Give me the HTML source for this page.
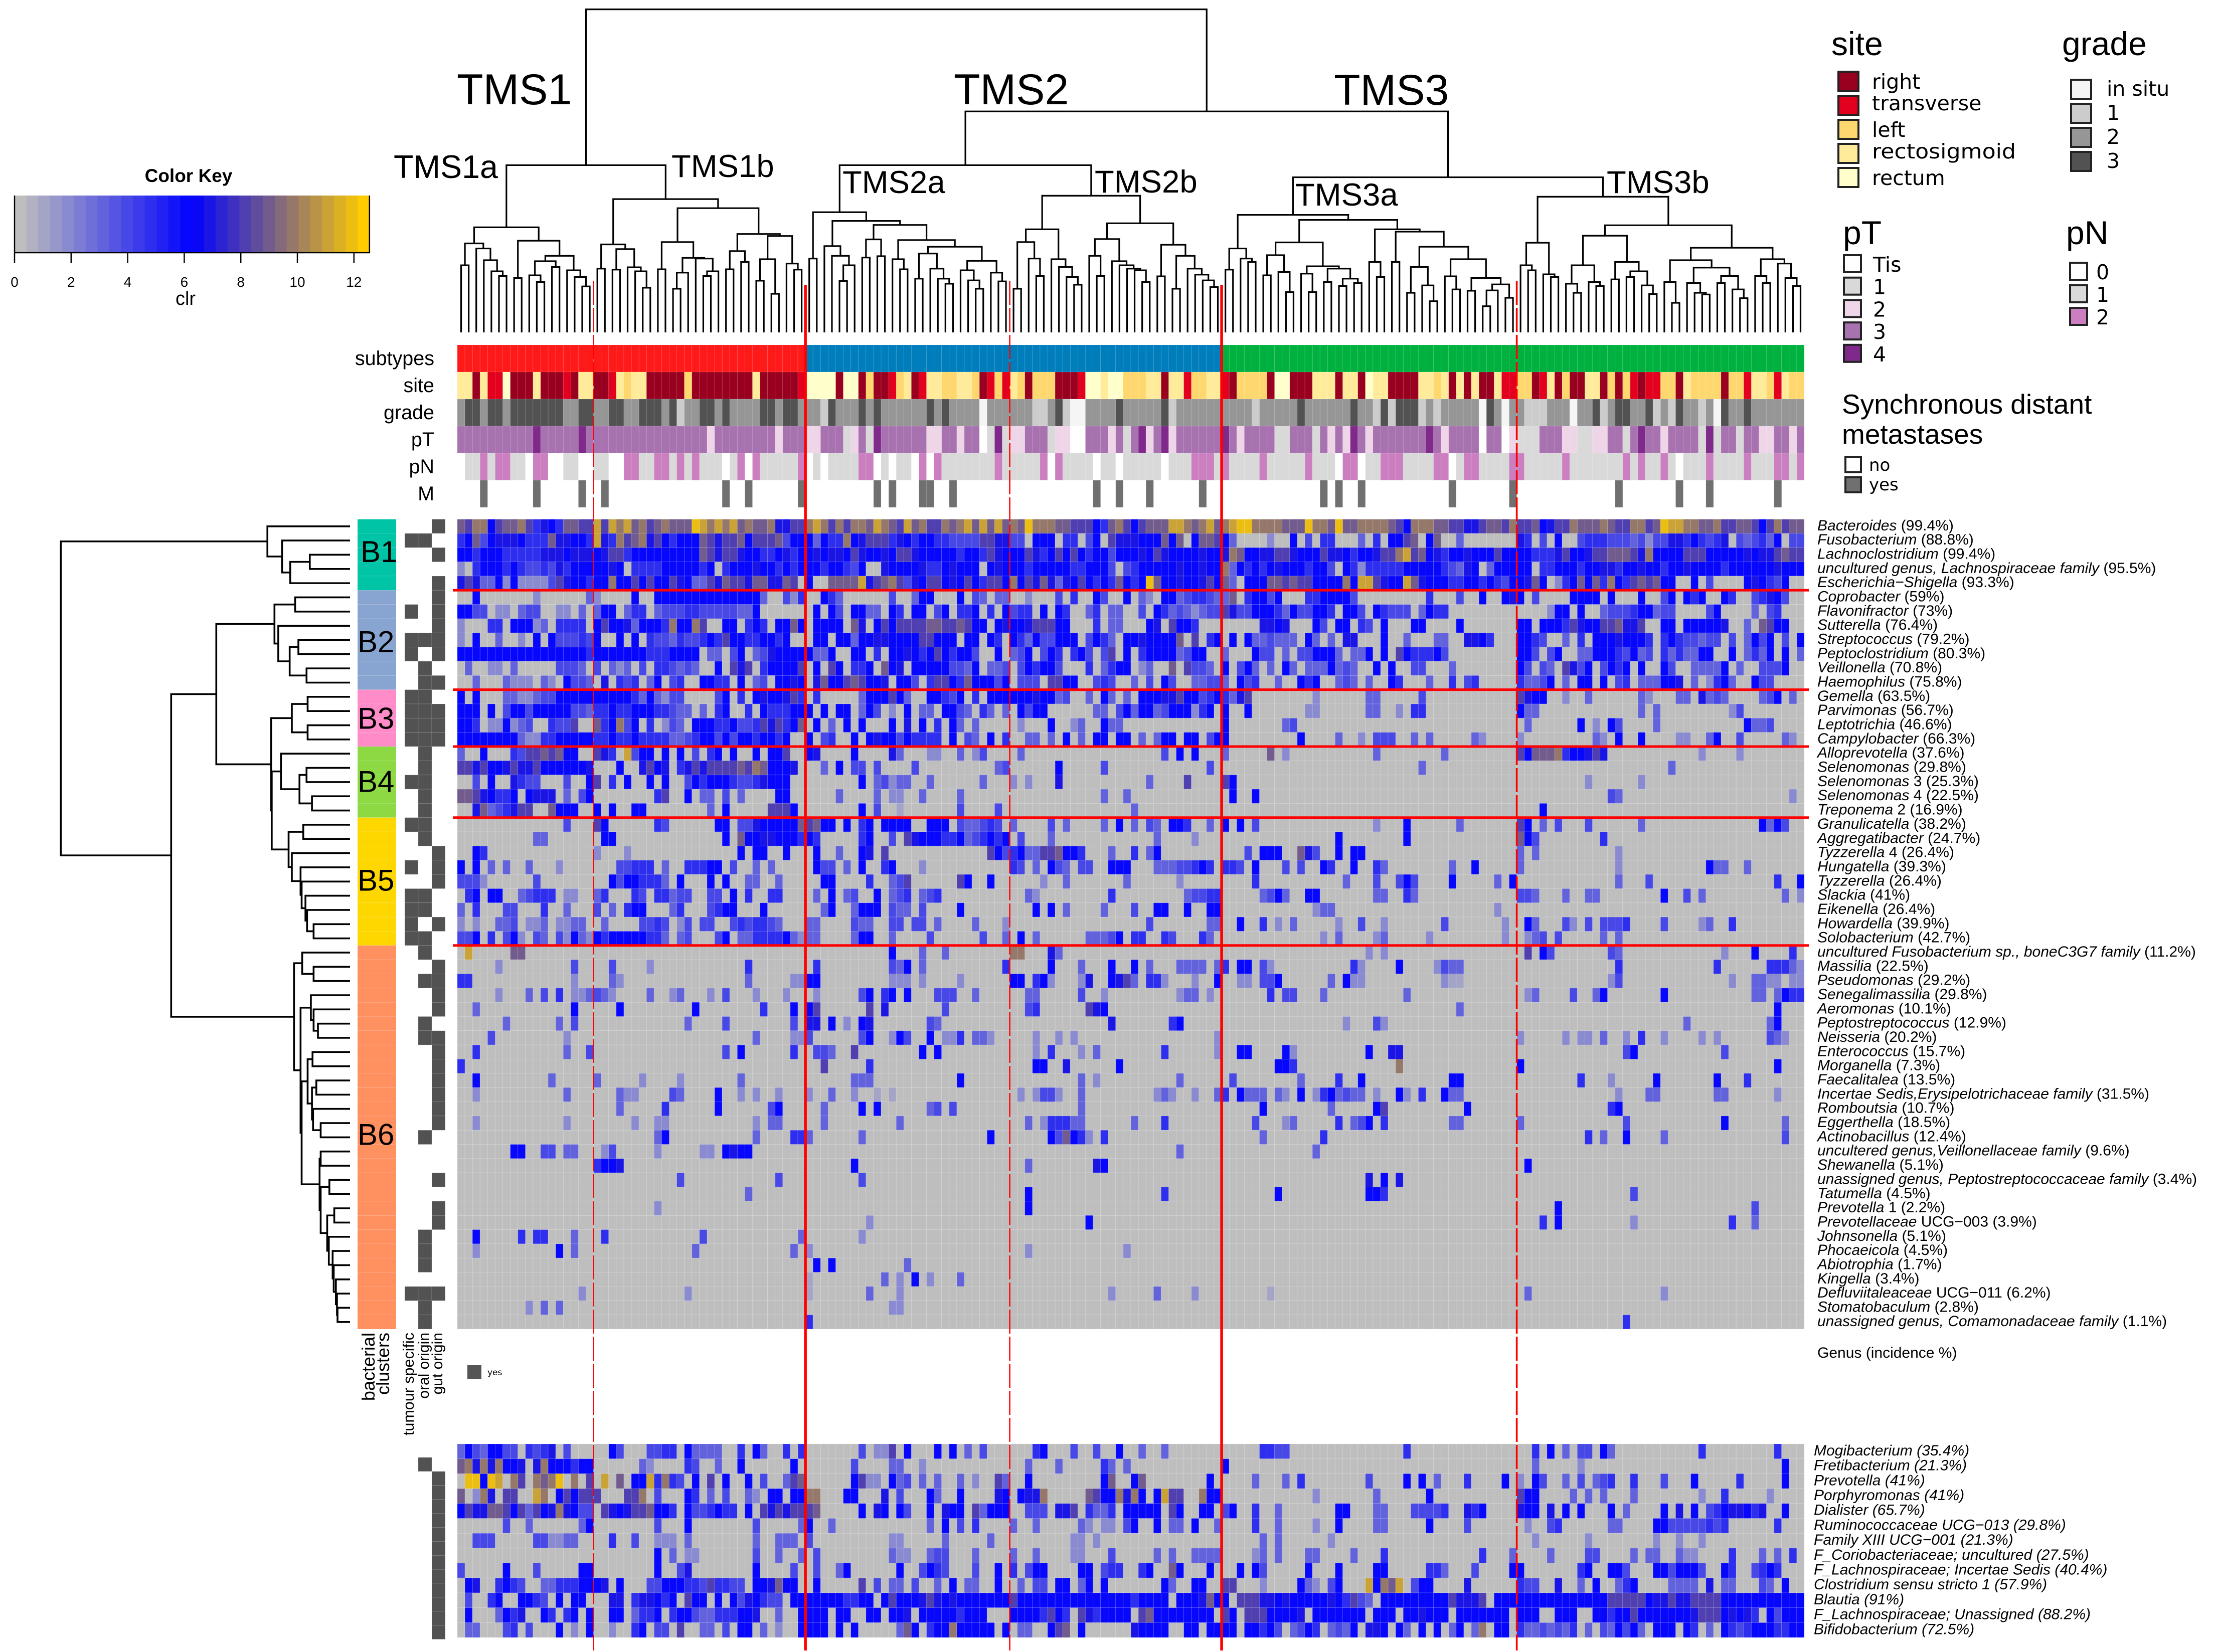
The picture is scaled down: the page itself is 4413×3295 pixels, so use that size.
<!DOCTYPE html>
<html lang="en">
<head>
<meta charset="utf-8">
<title>Microbiome heatmap with TMS subtypes</title>
<style>
html,body{margin:0;padding:0;background:#fff;width:4413px;height:3295px;overflow:hidden}
svg{display:block}
text{font-family:"Liberation Sans",Arial,sans-serif;fill:#000}
.dv{font-family:"DejaVu Sans","Liberation Sans",sans-serif}
</style>
</head>
<body>
<svg id="chart" xmlns="http://www.w3.org/2000/svg" width="4413" height="3295" viewBox="0 0 4413 3295"></svg>
<script>
/* ---------- categories ---------- */
const genusTop = ["Bacteroides","Fusobacterium","Lachnoclostridium","uncultured genus, Lachnospiraceae family","Escherichia−Shigella","Coprobacter","Flavonifractor","Sutterella","Streptococcus","Peptoclostridium","Veillonella","Haemophilus","Gemella","Parvimonas","Leptotrichia","Campylobacter","Alloprevotella","Selenomonas","Selenomonas| 3","Selenomonas| 4","Treponema| 2","Granulicatella","Aggregatibacter","Tyzzerella| 4","Hungatella","Tyzzerella","Slackia","Eikenella","Howardella","Solobacterium","uncultured Fusobacterium sp., boneC3G7 family","Massilia","Pseudomonas","Senegalimassilia","Aeromonas","Peptostreptococcus","Neisseria","Enterococcus","Morganella","Faecalitalea","Incertae Sedis,Erysipelotrichaceae family","Romboutsia","Eggerthella","Actinobacillus","uncultered genus,Veillonellaceae family","Shewanella","unassigned genus, Peptostreptococcaceae family","Tatumella","Prevotella| 1","Prevotellaceae| UCG−003","Johnsonella","Phocaeicola","Abiotrophia","Kingella","Defluviitaleaceae| UCG−011","Stomatobaculum","unassigned genus, Comamonadaceae family"];
const incidenceTop = [99.4,88.8,99.4,95.5,93.3,59,73,76.4,79.2,80.3,70.8,75.8,63.5,56.7,46.6,66.3,37.6,29.8,25.3,22.5,16.9,38.2,24.7,26.4,39.3,26.4,41,26.4,39.9,42.7,11.2,22.5,29.2,29.8,10.1,12.9,20.2,15.7,7.3,13.5,31.5,10.7,18.5,12.4,9.6,5.1,3.4,4.5,2.2,3.9,5.1,4.5,1.7,3.4,6.2,2.8,1.1];
const genusBottom = ["Mogibacterium","Fretibacterium","Prevotella","Porphyromonas","Dialister","Ruminococcaceae UCG−013","Family XIII UCG−001","F_Coriobacteriaceae; uncultured","F_Lachnospiraceae; Incertae Sedis","Clostridium sensu stricto 1","Blautia","F_Lachnospiraceae; Unassigned","Bifidobacterium"];
const incidenceBottom = [35.4,21.3,41,41,65.7,29.8,21.3,27.5,40.4,57.9,91,88.2,72.5];
const clusterNames = ["B1","B2","B3","B4","B5","B6"];
const clusterSizes = [5,7,4,5,9,27];
const clusterColors = ["#00c4a6","#88a4d0","#ff8cc8","#8cd944","#ffd700","#ff9060"];
const clusterLabelRows = [2.28,8.6,14,18.45,25.4,43.3];
const clusterBreaks = [5,12,16,21,30];
const segmentLengths = [18,28,27,28,39,38];
const subtypeSizes = [46,55,77];
const subtypeColors = ["#ff1a1a","#007dbb","#00b140"];
const solidSplits = [46,101];
const dashedSplits = [18,73,140];

/* ---------- column annotations: value*count runs ---------- */
const siteRuns = "S2 R1 S1 T2 C1 R3 S1 R3 T1 R1 S2 R2 T1 S1 L1 S2 R5 L1 R8 S1 R5 T1 C4 R1 C2 R1 L1 R2 T1 L1 S1 R1 T1 S2 L2 S2 L1 R1 T1 L1 T1 S1 L1 R1 L3 R3 T1 C2 S1 C2 L3 S2 R1 S2 T1 L2 S2 T1 R1 L4 R1 C2 R3 S3 R1 S2 R1 C1 S2 R4 S2 L1 S1 R1 S1 R1 S1 R2 S1 T2 L2 R1 T1 S1 R1 L1 R2 S2 R1 L1 R1 L1 T1 R1 T2 L2 R1 S1 L4 R1 L2 T1 S2 L1 T1 S1 L2";
const gradeRuns = [2,"3*2",2,"3*2",2,"3*7","2*2","3*2","2*2","3*2","2*2","3*3",2,3,1,"2*2","3*2",2,3,"2*4","3*2",2,"3*2",2,
 "2*2",1,3,"2*3",3,2,3,"2*6",3,2,3,"2*4",0,"2*6","1*2",2,3,1,"0*2","2*4",3,"2*5",3,1,"2*6",
 "2*4",1,"2*5",3,"2*6",3,"2*2",1,3,1,"3*3",1,2,1,"2*5",0,3,2,0,"2*2","1*3","2*3",0,"2*2",3,1,2,"3*2","2*2",3,1,2,1,3,"2*2",1,2,0,3,"2*2",3,"2*7"];
const pTRuns = ["3*10",4,"3*5",4,"3*16",2,"3*8",2,"3*3",
 "2*2","3*3",1,2,3,1,4,"3*6","2*2","3*2",2,"3*2",0,1,4,1,"2*2","3*3",1,"2*2","0*2","3*3",2,3,1,3,4,2,3,4,2,"3*6",
 4,3,2,"3*4","1*2","3*3",1,3,2,3,2,4,3,2,"3*7",4,3,2,"3*4",0,"3*2",0,2,"1*3","3*3",2,2,"1*2","2*2","3*2",1,3,4,"3*2",2,"3*4",1,4,1,"3*2",1,"3*2","2*2","3*2",2,3];
const pNRuns = [0,"1*2",2,1,"2*2","1*2",0,"2*2","0*2","1*2","0*2","1*2","0*2","2*2","1*2","2*2",1,2,1,2,"1*2",1,0,1,2,0,2,"1*5",2,
 0,1,0,"1*4","2*2",0,1,0,"1*2",0,2,0,2,"1*7",2,"1*5",2,0,2,"1*4",0,"1*2",0,"1*5",0,"1*3","2*3",1,
 2,"1*4",2,"1*5",2,"1*3",0,"2*2",0,"1*2","2*3","1*4","2*2",0,1,"2*2","1*4","2*2","1*5",2,"1*7",2,1,2,"1*2",2,1,0,"1*3",2,"1*4",2,"1*3","2*2",1,2];
const metastasisYes = [3,10,16,19,35,38,45,55,57,61,62,65,84,87,91,98,114,116,119,131,139,153,161,165,174];

/* ---------- row annotations (0-based row index) ---------- */
const tumourSpecificRows = [1,6,8,9,12,13,14,15,18,21,24,26,27,28,29,54];
const oralOriginRows = [1,8,10,11,12,13,14,15,16,17,18,19,20,21,22,26,27,29,30,32,35,36,43,50,51,52,54,55,56];
const gutOriginRows = [0,2,4,5,6,7,8,9,11,13,14,15,23,24,25,28,31,32,33,34,36,37,38,39,40,41,42,46,48,49,54];
const oralOriginBottom = [1];
const gutOriginBottom = [2,3,4,5,6,7,8,9,10,11,12,13];

/* ---------- heatmap values: clr level per cell (. = 0, a = 10, b = 11, c = 12) ---------- */
const denseRows = [
"98aa6899a8576599 88|b8bab9a89a999cbabab9a99a7788|aba8a8aa9ba98b9a88a9ab9b9b9|a9caaa99888659a868999bba9ab9|abcca aaa999caa9c99aaaa986aaa9988778998ab|8896 78 8a999a98 8aa8 9cbbaa99a889 9 8 6 8a899",
"56946777655597 7665|b75a89a786566698788968889 466|63655a678885765665544448877 |44.666.55.46.8777666969.6998 6|63....2..6.4.55...3.5.6689.69..3.......9.|75.4.6..45554443424477565457.43453 6.44",
"665666555557776777|678856666666669878876655 6756|676776876676887666665665876|668756868656646667687666676 66|7a9 6 6 7 7 8 8 7 6 6 6 8 7 7 6 5 6 6 7 8 8 a b 8 9 6 7 5 6 6 7 6 6 6 8 6 6|6 6 5 5 5 7 8 6 6 7 8 8 9 9 9 8 7 a 6 6 6 6 8 8 8 6 6 6 6 6 7 6 7 7 8 9 8 8",
"2.5666565445475666|6676.55556666656.56667665656|6656654 6..76666755676 66.676|66566666556664.456666676676 6|a36565676665664.65 25555566666543 76.3 666|66.55666566775667665667666656666667666",
"787336262222 48766 5|66a66868668763387988799779 8 .|6..9999b7 8 9a8476 8 8 6 7 6 8 6 5 8 8 6|a687973768656596 56c966 7 66786|93.6669 9 8 9 8 8 6 6 6 6a6bb8766b9 7 6 6 6 5 5 6 6 5 6 5 4 6|679 6.2569695a6589 8 9 66..6.4....67654 6..6",
"..6.......2......3|2....6..666666666666663..4 2 5|..653......4..366...6.43.33|..2...4.5..64..6.32.663 45543|39.566 46...5566664.........5...4..6..67|6.4....6666.6...6..46.656..65..457 64",
"6644.22.344..22.3.|366.355.344455444443 36.....|.6. 6 4 . 6 6 3 3 . 6 5 . 6 6 . 4 6 . 5 5 6 . 5 . 6|455.6.65..35.33..4.6534323446|874466653644665.664.6544 4.3 655..|....2 66.6..34445663 44....46....3.45",
"2...55.666 23.555 5|68667366 65a66a8..66.565.669 6|.6 6 6 6 . 9 7 . 6 8 6 8 8 8 8 9 9 8 8 9 8 6 6 . 6 7|667888 66...5.33...67.86 65...|.....7767...64.66.54.6...66....6..|66.66658 7 6 688 9 7 78..66.6666 67..3.9866",
"2.6..3..2.6.64445 4|6..6.6.5443544 5 65866556656|. 6 6 . 6 6 3 6 6 7 7 6 6 6 6 8 8 6 6 6 . 6 6 . 6 5|653644666.46 53.6676666 9.8.56|.6.6334 333.63.3.77...6..3...33..776 5|66 54..3.5.6667666 5.5654434 4.4.3646.4.6",
"666666666666 666665|6666666555666 6.33.46.347666 67|6 3 3 6 . . 6 6 . 5 . 6 6 7 6 5 6 8 6 5 6 6 4 . . 6|346.465.564.48.6.5666634 66|3...644.3.44 6663.33 6.6.8655564 .........|664.46..33 6665463 4.535 3 3 66..6.353 6.6.3",
".3..22.3.....4443.|4.32 3.4.5543 43..6.878.56666 8|.6.8 6 . 5 5 6 . 9 6 7 . 6 6 6 6 6 4 4 3 6 . 3 3 4|.4656 64 ...5.3566 .23..9.844 3.|6.463.3.63.333634 3..6.6..44...3...|64.43.874 6.465 6.6..64..3333 6.3..444 6",
"..3...3222.32.6443|.7.545.36.45..6655.6.34.66 76|.7 9 6 6 8 9 8 6 6 7 . 6 6 4 . 5 8 8 6 5 9 6 6 6 4 6|.444.88 66..454..3.4.64..33 443|3.645..3..656..343.3..65...3..5.45....|5334 6.3.66.6.45.333 667.3.256 3..6 44.",
"6.6...3322344 666 66|66666536 32 44....46.5.67667 85|.5.....3 6 6 6 8 6 3 . . 6 6 5 4 6 . 5 . 6 6 6 7 8|66676634..3.63.3.66677866 456|537 8........2......33.....4...|8766..2..3......32...33.7343....346.3",
"666.6.466466666443|556556665543 3.3.56..5.65556 6|6 . 6 . 6 6 . 3 6 4 . 2 . 6 . 3 3 . 6 6 4 3 . 5 3 . 3|.646 6......33.463 66346 6625 6 .|6..6.......22......33..2.55....... .|633.............3.3.........24.........",
"665.226 234 ..5448|956a46.5.243.66655644587 8569|.6.3.6.6...6 .7.6.5.63.3...|.2...6..23..633...............|6.......3 4...........................|.3......6.2.6 4....3...........633 4.",
"66666666 3225566 6666|556556555533456 6 4646 65 665 6|6 . 4 5 . . 6 . 6 7 6 6 4 6 5 5 5 5 . 6 . 4 3 . 6 . 5|..33.3.6.3.66.66.3.366.66.46|6.........6....3..2.444..3.3.....32...|2.........32.6..6....22..36..4.....32."
];
const semiDenseRows = {
16:"3..6...54889 8 9 6 6 ..|875.b466.6.6.4.56.6..6.668|0:6,1:7,6:6,11:7,12:3,16:2,17:2,20:3,22:2,23:4|1:3,20:4,22:6,24:6|0:3,6:9,8:2,20:3,29:3|0:8,1:6,2:9,3:9,4:9,5:a,6:5,7:6,8:6,9:7,10:8,11:7,24:2,29:2",
17:"887866787786666667|...6..786 7.578 788889 8a9666 7.|2:3,4:6,6:4,7:4,9:4,14:4,25:3,26:4|6:6,12:4,26:4|26:3|20:3",
18:"..4.6..75 44...4..6|8.5.6..6.6..465666544576 66 .|7:6,9:3,10:4,11:2,12:3,13:3,16:3,23:3|0:2,2:2,6:7,18:3,23:8|0:8,1:6|9:2,16:2",
19:"9987655 6.677 7.3.46|........58..6.33.4.3....66..|4:3,9:3,11:2,12:2,15:3,20:3|12:3,15:3|1:6,4:6|12:4,13:3,36:2",
20:"..79345788..966 6.|6.6..66........3.6.....8886|7:6,9:4,12:1,20:4,25:4|16:3||3:6",
21:"..............4...|86......54......66.447666669|0:8,1:9,2:6,3:6,5:6,7:5,8:6,10:6,11:6,12:6,13:6,16:6,17:6,18:6,20:4,21:3,22:3,23:4,24:5,25:4|0:3,5:4,7:3,12:3,14:6,16:3,18:4,19:3,21:6,22:6,23:5,26:3|0:6,2:6,4:4,20:2,24:6,31:3|0:8,1:6,3:3,5:4,9:4,16:3,32:6,33:3,34:6,35:4",
22:"..........33......|.66..............6.9667766 65|0:6,1:5,7:5,8:6,11:4,13:8,14:7,15:6,16:6,17:6,18:5,19:5,20:6,21:3,22:4,23:5,24:6,25:5,26:6|1:4,5:3,19:3,24:2|15:6,24:6|0:9,1:6,2:4,11:5",
23:"..65..............|2...2..............6.66..6..|1:6,4:3,7:6,8:7,10:8,24:8,25:6,26:4|0:5,1:6,2:3,3:3,4:8,5:8,6:9,7:6,8:6,9:5,13:3,16:5,18:3,19:6|3:4,5:6,6:6,7:6,10:9,11:7,12:4,15:6,17:6,18:6|0:3,2:3,13:2",
24:"6.6.3.3..3...2....|...44555.3..5556 6.4..3.3...|1:6,2:4,3:4,5:3,7:6,10:5,11:6,15:2|0:5,1:4,3:3,5:6,6:4,7:3,9:4,10:4,13:6,14:6,15:6,19:3,20:3,21:3,22:4,23:4,24:5,25:6,26:5|0:5,1:5,2:4,4:6,8:4,10:4,13:6,14:5,17:6,20:5,21:3,30:3,33:6|0:3,13:2,25:6,26:3,27:3,30:3",
25:"4442......4.......|..646655 53.6...6.6..33..3..|2:6,3:6,8:5,11:3,12:4,13:8,20:8,21:6,24:6|4:2,7:3,15:3,22:2|4:5,16:3,20:4,23:4,24:6,25:4,30:6,36:3,38:6|13:3,17:4,34:5,37:6",
26:".56.66..345 55.22..|35...54.5534 4..44.6.5..55..|1:3,3:6,5:3,6:4,9:6,11:3,12:4,13:5,15:3,16:4,17:5|2:3,3:2,13:5,23:3,24:4,25:4,26:5,27:5|5:3,6:4,7:6,8:3,11:6,12:6,20:3,21:3,24:5,25:3|0:4,1:4,2:3,6:3,9:3,10:3,19:6,22:4,24:3,35:3,37:2",
27:"3.5...44...5..3...|4.3.566...35...4566...6...|2:3,3:6,6:3,7:6,8:6,9:6,11:4,12:3,13:3,15:4,20:6|3:6,5:6,7:3,12:3,16:4,19:6,20:6,23:6,26:6,27:6|12:2,13:3,14:3,36:2|",
28:"2.2..334.223.2233.|.3....4454.24.44..454554 3..|0:3,1:3,6:4,7:3,8:3,11:4,12:4,14:4,15:4,17:3,22:3,26:2|18:4,26:3,27:3|2:6,5:5,7:2,9:3,15:2,18:4,21:2,29:4,37:2|1:6,2:3,6:4,7:2,9:4,11:4,12:4,13:4,14:5,19:4,24:2,25:3,28:5",
29:"446.5.462.4 3.426 32|6566666553.34...46.33 55556 32|0:3,1:3,6:3,7:6,8:6,11:3,16:4,23:4,26:3|1:6,3:3,10:3,11:3,12:3,13:4,14:6,16:5,17:5,20:5,21:4,25:5,26:3|13:2,15:3,20:2,21:3,27:2,37:2|1:2,2:3,3:4,5:4,11:3,13:3"
};
const sparseRows = [
"1:b,7:9,8:9,57:6,61:3,64:3,73:a,74:a,78:7,79:3,120:2,122:2,141:8,143:6,144:4,152:4,153:3,167:2,171:6,176:5",
"5:2,15:4,20:4,25:2,38:5,47:5,57:4,58:3,59:6,61:3,72:5,78:6,82:3,86:6,89:6,91:3,95:3,96:3,97:3,98:3,100:3,101:5,103:6,104:6,106:4,107:2,118:5,119:2,124:6,129:2,130:4,131:3,132:3,153:5,166:5,173:5,174:5,175:5,176:3,177:2",
"0:5,1:5,15:2,20:3,21:2,38:3,44:2,45:2,46:6,47:6,57:2,58:2,59:2,61:2,66:2,73:6,74:6,76:5,77:6,78:2,82:2,83:7,86:6,87:7,88:8,89:3,91:5,92:5,93:2,97:2,100:6,103:2,104:2,106:4,107:4,108:6,115:3,117:6,118:2,119:2,130:2,131:1,132:1,152:2,153:4,168:2,171:3,172:3,173:2,174:2,176:2,177:2",
"5:2,9:3,11:4,13:5,15:2,16:2,17:3,18:4,19:3,20:2,25:3,28:2,29:3,33:2,35:4,39:2,43:2,47:2,53:4,54:6,56:5,57:6,59:6,63:4,64:4,65:4,68:3,75:3,76:3,82:4,85:2,95:2,96:3,97:3,99:2,107:5,109:4,110:4,114:3,125:3,141:2,142:3,147:4,150:3,151:6,159:6,171:3,172:3,174:3,175:6,176:5,177:5",
"2:3,15:6,21:6,31:6,40:5,44:6,46:6,47:8,54:8,56:7,64:4,75:4,76:5,83:8,84:7,85:6,132:3,174:6",
"6:3,13:3,15:4,30:3,35:4,44:4,46:7,47:7,49:6,51:2,53:6,54:7,62:4,63:3,86:7,94:5,95:6,117:2,121:4,122:2,162:3,173:3,174:6",
"4:4,14:2,39:3,44:2,45:2,46:4,53:4,54:6,57:2,58:6,59:4,62:6,64:2,65:2,66:5,68:3,69:3,70:2,76:2,79:2,81:2,100:2,140:2,146:2,148:2,149:2,151:3,154:2,156:5,159:2,164:2,166:2,173:4,174:3,175:2",
"2:5,14:3,17:4,35:4,37:6,44:5,47:4,48:4,49:3,52:8,61:6,63:6,76:2,78:5,82:2,84:3,93:5,100:2,103:6,104:6,109:6,110:2,120:6,123:7,124:7,154:4,155:6,167:4",
"0:5,48:8,54:5,76:6,77:6,80:7,87:6,108:6,109:6,110:5,124:a,140:6,174:6",
"2:6,12:3,18:3,24:2,29:2,37:3,52:3,53:3,54:3,66:6,82:3,84:2,95:3,102:4,111:3,116:5,119:6,131:6,132:6,148:5,152:2,158:6,166:6,170:5",
"2:2,14:3,21:3,22:2,23:2,28:4,29:3,34:6,37:2,39:2,42:2,46:2,49:3,52:2,55:1,57:1,74:2,76:2,77:4,78:4,79:2,82:3,92:2,93:3,94:2,97:2,100:3,101:5,103:6,104:3,105:3,106:3,108:3,109:2,111:6,113:2,114:5,115:6,116:3,117:4,118:3,119:3,121:2,124:6,125:2,127:5,130:6,131:3,132:3,153:2,157:3,158:3,166:3,167:3,174:2",
"21:3,27:5,34:6,41:4,42:6,48:3,53:6,55:6,62:3,63:4,65:4,82:3,106:6,115:3,121:6,122:8,133:6,152:5,153:6",
"2:2,14:2,23:2,26:2,27:2,39:2,41:3,42:3,48:3,58:3,75:3,77:2,78:5,79:5,80:5,81:3,82:3,89:3,93:5,105:4,109:2,110:3,116:5,118:3,119:4,120:6,122:5,131:3,132:3,140:3,154:4,167:6,175:3",
"26:3,27:6,39:3,44:5,45:5,46:3,53:3,70:6,78:6,79:4,80:9,81:6,82:5,83:2,85:5,106:3,114:5,149:5,151:3,154:6,159:3,175:4",
"7:6,8:6,11:4,12:4,14:3,15:3,19:2,20:4,26:2,32:2,33:2,35:6,36:7,37:6,38:6,95:3,113:3",
"18:5,19:6,20:6,21:7,52:5,52:6,75:3,84:7,85:6,141:6",
"29:4,42:4,53:4,120:7,122:6,124:7",
"38:3,75:6,93:5,108:6,120:6,121:6,122:5,155:4",
"26:2,75:6,145:6,171:4",
"83:6,54:2,143:5,145:6,155:2,168:5,171:3",
"2:6,8:5,10:5,11:5,15:3,19:5,32:4,45:3,53:2",
"2:2,13:6,15:3,31:3,44:3,46:2,75:2,88:2",
"47:6,49:6,59:3",
"46:1,56:3,58:2,60:6,62:2,66:3",
"16:2,30:2,46:1,54:3,58:2,86:2,92:3,97:2,107:1,141:3,159:2",
"9:2,11:3,13:3,57:2,58:2",
"46:5,154:5"
];
const bottomRows = [
"364366 44.5457.4..|..64...4455.63333..5.63..5.5|.......4.228.6...6.6.3.4...|...56...4..4..6..3..3.......|5:5,6:5,7:4,8:4,24:5|2:5,4:6,6:3,8:4,9:4,11:6,12:3,24:5,34:5",
"9a7a7a667.7a666566|......32....54..3..6......6.|......4....33..2...........|..3...3.....53.3............|0:6|2:3,8:2,35:6",
".cc6cb.a8.a9ac.a.8|.b.9.66b5a54.6.8.6..6.4..389|......6822.634.3.3..3.2..83|..6.........69..69........6.|4:3,8:3,10:5,19:4,24:6,26:6,28:3,32:5,37:6|0:2,2:6,3:4,6:3,8:4,10:3,11:4,12:5,15:5,19:4,23:6,29:5,35:6",
"9.2a7.88..ba.68688|8...88a.4...65.3.4..32.66.66|aa...66...7.4...63..6....76|.677a.....9866a7a6.6b88..a66|12:2,20:3,27:6|0:8,1:6,2:6,7:3,9:3,11:3,15:3,24:2,27:5,33:2",
"687799868386 7a7644|.87678896 65.64456 55.6.87878 8|89.....6.76.64..6.766.83666|..444.778.5335.66666.86..66.|0:4,1:6,4:5,7:3,15:6,16:6,20:3,21:3,25:4,26:4,27:4,28:4,29:5,32:7,33:5,34:6|0:7,1:6,2:6,4:7,6:6,8:6,12:6,14:3,19:6,21:7,23:6,25:4,26:5,27:6,28:7,29:7,30:6,31:5,32:7,35:6",
"......4..3......36|........4...6........4.....3|6..3............3.6.4.5....|3..3.....32.22.46..6.33.6..3|4:5,7:3,12:2,15:6,20:3,21:3,27:6,32:4|1:2,4:4,5:5,12:3,13:3,18:6,19:6,20:4,21:4,22:4,23:4,24:4,25:5,26:4,27:5,34:5",
"..444.....442233..|..5..4..222.3........3..333.|4..........22.....3.....3..|........22.2................|5:3,7:3,14:2|2:2,9:2,18:2,21:2,24:2",
"|........6.3.22.......4..3..3|.4.........322..344...3....|3..3....22...4.....3.3..3333|4:2,5:3,7:3,11:3,12:3,17:3,21:5,34:5,38:3|4:3,9:4,10:4,15:3,17:3,18:3,21:3,22:2,23:2,28:5,32:3,34:3,36:5",
"4.....6...4.....66|........6..47........6....4.|.4..36......6..4654...4..6.|5.466....66.455..56..96...6..|2:6,4:6,5:4,11:6,15:6,20:6,21:6,27:5,28:5,29:3,33:4,38:6|0:6,8:5,9:6,12:6,13:6,14:4,18:6,19:6,20:4,21:6,22:6,23:6,24:4,27:6,28:5,31:4,32:5,33:6,34:5",
".67..56 54..33555 66|67.6...4466655485544.6679 66.|.6.....8.4.33.4..3.6.33..6.|.3.44.66.36.6.......63..66..|0:8,1:8,5:2,10:6,11:3,12:2,14:4,15:6,19:b,20:6,21:a,22:9,23:b,25:4,26:6,27:6,32:7|0:5,1:4,2:4,5:7,8:3,10:6,13:3,14:5,15:6,20:3,21:3,22:3,23:3,25:7,27:3,28:3,32:4,33:3,35:6",
".4..56..6654.6.66.|..77.577656.866.6.6476544.66|666665566.68666787676666666|8666666666666666566 66.666796|6.888 7 7 6 7 6 6 6 6 6 7 6 5 8 4 3 . 6 6 6 6 6 6 6 6 6 8 7 7 7 8 . 6 6 6|6 6 6 6 6 6 6 6 6 6 6 6 8 8 8 8 8 6 7 7 8 7 7 8 8 8 8 6 6 6 6 6 6 6 6 6 6 6",
".6...3657..65.56.6|..66.3556.566433555667..3..6|666.66..66.667.66666 5666 .|6666 58 65 . 8756666.8966666666|86.8886666 7.6666666.666.6676 66.6666666|666..666..66566866666667888 67675.646 66",
".33...45.4...6.2.66|..2..56.44.8..33.4.66.3.2..6|666.6.6.....396.566a66666.6|.33..689.6......76666..66.667|66.6656 4.346 5.3436.776.63.6.6.36.3a.66|53343435.3.4364 63.666.65.3.654566655 66"
];

/* ---------- top dendrogram (nested merges: [height, left, right], 0 = leaf) ---------- */
const tms1a = [313,[265,[200,0,0],[250,0,[215,0,[182,0,[168,0,0]]]]],[273,[162,0,0],[228,[212,[170,0,[150,0,0]],[195,0,0]],[185,0,[165,0,[137,0,0]]]]]];
const tms1b = [397,[262,[190,0,0],[248,[187,0,0],[194,0,[182,0,[133,0,0]]]]],[370,[269,[188,0,0],[222,[178,[130,0,0],0],[220,0,[182,[168,0,0],0]]]],[293,[242,[188,0,0],[210,0,0]],[287,[218,[154,0,0],[115,0,0]],[205,0,[187,0,0]]]]]];
const tms2a = [358,[220,0,0],[332,[257,0,[228,0,[200,[153,0,0],0]]],[320,[277,[223,0,0],[227,0,0]],[275,[218,0,[188,0,0]],[255,[235,[160,0,0],[190,0,[160,0,[145,0,0]]]],[213,[185,0,[155,0,[130,0,0]]],[178,0,[152,0,0]]]]]]]];
const tms2b = [407,[307,[269,[130,0,0],[220,0,[168,0,0]]],[218,0,[195,0,[165,0,[142,0,0]]]]],[325,[278,[228,0,[168,0,0]],[212,0,[200,0,[190,0,[185,0,[150,0,0]]]]]],[261,[167,0,0],[228,[130,0,0],[190,0,[172,0,[155,0,[135,0,0]]]]]]]];
const tms3a = [350,[250,[187,0,0],[220,0,[210,0,0]]],[335,[268,[230,[170,0,0],[180,0,[120,0,0]]],[197,[175,0,[120,0,0]],[190,[150,0,0],[160,[138,0,0],[147,0,0]]]]],[307,[210,0,[165,0,0]],[300,[210,0,0],[255,[195,[118,0,0],[140,0,[93,0,0]]],[218,[167,0,[128,0,0]],[162,[124,0,0],[143,[125,[78,0,0],0],[103,0,0]]]]]]]]];
const tms3b = [404,[267,[200,0,[185,0,0]],[173,0,[165,0,0]]],[319,[288,[200,[145,0,[118,0,0]],[150,0,[138,0,0]]],[210,[158,0,0],[182,[165,0,0],[140,0,[114,0,0]]]]],[252,[215,[150,0,[88,0,0]],[193,[147,0,[118,0,[113,0,0]]],[168,[147,0,0],[128,0,[102,0,0]]]]],[218,[168,0,[147,0,0]],[205,0,[162,0,[138,0,0]]]]]]];
const colTree = [962,[498,tms1a,tms1b],[658,[498,tms2a,tms2b],[462,tms3a,tms3b]]];

/* ---------- left dendrogram ---------- */
const treeB1 = [152,0,[125,0,[110,[74,0,0],0]]];
const treeB2 = [139,[101,0,0],[132,0,[111,[95,0,0],[80,0,0]]]];
const treeB3 = [107,[78,0,0],[78,0,0]];
const treeB4 = [127,0,[93,[80,0,0],[70,0,0]]];
const treeB5 = [113,[86,0,0],[107,0,[91,0,[89,0,[82,0,[79,0,[67,0,0]]]]]]];
const treeB6 = [103,[88,0,[67,0,0]],[91,[72,0,[67,0,[59,0,0]]],[89,[78,[69,0,0],[70,[62,0,0],[68,0,[54,0,0]]]],[56,[54,0,0],[54,[38,0,0],[42,[29,0,0],[39,0,[32,0,[30,0,[26,0,[24,0,[23,0,0]]]]]]]]]]]];
const rowTree = [532,treeB1,[329,[246,treeB2,[145,treeB3,[144,treeB4,treeB5]]],treeB6]];

/* ---------- colour key and legends ---------- */
const clrTicks = [0,2,4,6,8,10,12];
const keyBins = 30;
const keyMax = 12.55;
const siteLevels = ["R","T","L","S","C"];
const siteLabels = ["right","transverse","left","rectosigmoid","rectum"];
const siteColors = ["#99001f","#e3001f","#fed76e","#ffeb9a","#ffffcc"];
const siteLabelShift = [0,-5,0,-5,0];
const gradeLabels = ["in situ","1","2","3"];
const gradeColors = ["#f5f5f5","#cccccc","#969696","#525252"];
const pTLabels = ["Tis","1","2","3","4"];
const pTColors = ["#ffffff","#d9d9d9","#eed5e8","#a872b0","#7f2a8a"];
const pNLabels = ["0","1","2"];
const pNColors = ["#ffffff","#d9d9d9","#cc7fc0"];
const metLabels = ["no","yes"];
const metColors = ["#ffffff","#707070"];
const trackLabels = ["subtypes","site","grade","pT","pN","M"];

/* ---------- scales ---------- */
const svg = document.getElementById('chart');
const NS = 'http://www.w3.org/2000/svg';
const nCols = 178;
const X0 = 912, CW = 15.09;
const Y0 = 1035.6, RH = 28.34;
const BY0 = 2880, BRH = 29.7;
const xCol = c => X0 + c * CW;
const yRow = r => Y0 + r * RH;
const yBottom = r => BY0 + r * BRH;
const yTree = h => 663 - h / 1.493;
const xRowTree = h => 698 - h / 0.9224;
const clrX = v => 29 + v * 56.4;

function mk(tag, attrs, parent) {
  const e = document.createElementNS(NS, tag);
  for (const k in attrs) e.setAttribute(k, attrs[k]);
  (parent || svg).appendChild(e);
  return e;
}
function group(name) {
  const g = mk('g', {});
  
  
  return g;
}
function txt(parent, s, x, y, size, extra) {
  const t = mk('text', Object.assign({x: x, y: y, 'font-size': size}, extra || {}), parent);
  t.textContent = s;
  return t;
}
function clrColor(v) {
  const bin = Math.min(keyBins - 1, Math.floor(v / keyMax * keyBins));
  const t = bin / (keyBins - 1);
  const a = t < .5 ? [190,190,190] : [0,0,255];
  const b = t < .5 ? [0,0,255] : [255,204,0];
  const s = t < .5 ? t * 2 : (t - .5) * 2;
  return 'rgb(' + [0,1,2].map(i => Math.round(a[i] + (b[i] - a[i]) * s)).join(',') + ')';
}
function level(ch) {
  if (ch === '.') return 0;
  if (ch === 'a') return 10;
  if (ch === 'b') return 11;
  if (ch === 'c') return 12;
  return Number(ch);
}
function parseSegment(seg, len) {
  const out = new Array(len).fill(0);
  if (seg.indexOf(':') >= 0) {
    seg.split(',').forEach(p => {
      const q = p.split(':');
      out[Number(q[0])] = level(q[1]);
    });
  } else {
    const s = seg.replace(/\s/g, '');
    for (let i = 0; i < len && i < s.length; i++) out[i] = level(s[i]);
  }
  return out;
}
function parseRow(str) {
  const segs = str.split('|');
  let vals = [];
  segmentLengths.forEach((len, i) => { vals = vals.concat(parseSegment(segs[i] || '', len)); });
  return vals;
}
function parseSparse(str) {
  const out = new Array(nCols).fill(0);
  str.split(',').forEach(p => {
    const q = p.split(':');
    out[Number(q[0])] = level(q[1]);
  });
  return out;
}
function expandRuns(runs) {
  const out = [];
  runs.forEach(r => {
    const q = String(r).split('*');
    const n = q.length > 1 ? Number(q[1]) : 1;
    for (let i = 0; i < n; i++) out.push(Number(q[0]));
  });
  return out;
}
function expandSite(str) {
  const out = [];
  str.split(' ').forEach(tok => {
    for (let i = 0; i < Number(tok.slice(1)); i++) out.push(siteLevels.indexOf(tok[0]));
  });
  return out;
}
const topValues = [];
denseRows.forEach(r => topValues.push(parseRow(r)));
for (let r = 16; r < 30; r++) topValues.push(parseRow(semiDenseRows[r]));
sparseRows.forEach(r => topValues.push(parseSparse(r)));
const bottomValues = bottomRows.map(parseRow);

/* ---------- heatmaps ---------- */
const gTop = group('heatmap-top');
gTop.setAttribute('stroke', '#ffffff');
gTop.setAttribute('stroke-opacity', '0.16');
gTop.setAttribute('stroke-width', '1');
topValues.forEach((row, r) => {
  row.forEach((v, c) => {
    const cell = mk('rect', {x: xCol(c), y: yRow(r), width: CW, height: RH, fill: clrColor(v)}, gTop);
    
    
  });
});
const gBottom = group('heatmap-bottom');
gBottom.setAttribute('stroke', '#ffffff');
gBottom.setAttribute('stroke-opacity', '0.16');
gBottom.setAttribute('stroke-width', '1');
bottomValues.forEach((row, r) => {
  row.forEach((v, c) => {
    const cell = mk('rect', {x: xCol(c), y: yBottom(r), width: CW, height: BRH, fill: clrColor(v)}, gBottom);
    
    
  });
});

/* ---------- column annotation tracks ---------- */
const TRACK_Y = 688, TRACK_H = 54;
const gTracks = group('column-annotations');
gTracks.setAttribute('stroke', '#ffffff');
gTracks.setAttribute('stroke-opacity', '0.12');
function drawTrack(idx, colorOf, name) {
  for (let c = 0; c < nCols; c++) {
    const col = colorOf(c);
    if (!col) continue;
    const cell = mk('rect', {x: xCol(c), y: TRACK_Y + idx * TRACK_H, width: CW, height: TRACK_H, fill: col}, gTracks);
    
    
  }
}
const subtypeOf = [];
subtypeSizes.forEach((n, i) => { for (let k = 0; k < n; k++) subtypeOf.push(i); });
const siteVals = expandSite(siteRuns);
const gradeVals = expandRuns(gradeRuns);
const pTVals = expandRuns(pTRuns);
const pNVals = expandRuns(pNRuns);
drawTrack(0, c => subtypeColors[subtypeOf[c]], 'subtype-cell');
drawTrack(1, c => siteColors[siteVals[c]], 'site-cell');
drawTrack(2, c => gradeColors[gradeVals[c]], 'grade-cell');
drawTrack(3, c => pTColors[pTVals[c]], 'pt-cell');
drawTrack(4, c => pNColors[pNVals[c]], 'pn-cell');
drawTrack(5, c => metastasisYes.indexOf(c) >= 0 ? metColors[1] : null, 'metastasis-cell');
const gTrackLabels = group('track-labels');
trackLabels.forEach((s, i) => {
  const t = txt(gTrackLabels, s, 866, TRACK_Y + (i + .5) * TRACK_H + 13, 39.5, {'text-anchor': 'end'});
  
  
});

/* ---------- dendrograms ---------- */
function drawColTree(node, counter, g) {
  if (node === 0) {
    const leaf = {x: xCol(counter.i) + CW / 2, h: 0};
    counter.i++;
    return leaf;
  }
  const a = drawColTree(node[1], counter, g);
  const b = drawColTree(node[2], counter, g);
  const y = yTree(node[0]);
  const p = mk('path', {d: 'M' + a.x + ' ' + yTree(a.h) + 'V' + y + 'H' + b.x + 'V' + yTree(b.h), fill: 'none', stroke: '#000', 'stroke-width': 3.2}, g);
  
  
  return {x: (a.x + b.x) / 2, h: node[0]};
}
drawColTree(colTree, {i: 0}, group('column-dendrogram'));
function drawRowTree(node, counter, g) {
  if (node === 0) {
    const leaf = {y: yRow(counter.i) + RH / 2, h: 0};
    counter.i++;
    return leaf;
  }
  const a = drawRowTree(node[1], counter, g);
  const b = drawRowTree(node[2], counter, g);
  const x = xRowTree(node[0]);
  const p = mk('path', {d: 'M' + xRowTree(a.h) + ' ' + a.y + 'H' + x + 'V' + b.y + 'H' + xRowTree(b.h), fill: 'none', stroke: '#000', 'stroke-width': 3.6}, g);
  
  
  return {y: (a.y + b.y) / 2, h: node[0]};
}
drawRowTree(rowTree, {i: 0}, group('row-dendrogram'));

/* ---------- row annotations ---------- */
const gClusters = group('bacterial-clusters');
let rowCursor = 0;
clusterSizes.forEach((n, i) => {
  for (let k = 0; k < n; k++) {
    const cell = mk('rect', {x: 713, y: yRow(rowCursor + k), width: 77, height: RH, fill: clusterColors[i], stroke: '#fff', 'stroke-opacity': .12}, gClusters);
    
    
  }
  rowCursor += n;
});
clusterNames.forEach((s, i) => {
  const t = txt(gClusters, s, i === 0 ? 719 : 713, yRow(clusterLabelRows[i]) + 21, 60);
  
  
});
const gRowAnno = group('row-origin-annotations');
function annoCol(rows, x, name) {
  rows.forEach(r => {
    const cell = mk('rect', {x: x, y: yRow(r), width: 27, height: RH, fill: '#525252', stroke: '#fff', 'stroke-opacity': .15}, gRowAnno);
    
    
  });
}
annoCol(tumourSpecificRows, 807, 'tumour-specific-cell');
annoCol(oralOriginRows, 834, 'oral-origin-cell');
annoCol(gutOriginRows, 861, 'gut-origin-cell');
function annoBottom(rows, x, name) {
  rows.forEach(r => {
    const cell = mk('rect', {x: x, y: 2879 + r * 27.9, width: 27, height: 27.9, fill: '#525252', stroke: '#fff', 'stroke-opacity': .15}, gRowAnno);
    
    
  });
}
annoBottom(oralOriginBottom, 834, 'oral-origin-bottom-cell');
annoBottom(gutOriginBottom, 861, 'gut-origin-bottom-cell');

/* ---------- row labels ---------- */
const gLabels = group('genus-labels');
genusTop.forEach((g, i) => {
  const parts = g.split('|');
  const t = mk('text', {x: 3624, y: yRow(i) + RH / 2 + 8, 'font-size': 30}, gLabels);
  
  
  const a = mk('tspan', {'font-style': 'italic'}, t);
  a.textContent = parts[0];
  const b = mk('tspan', {}, t);
  b.textContent = (parts[1] || '') + ' (' + incidenceTop[i] + '%)';
});
genusBottom.forEach((g, i) => {
  const t = txt(gLabels, g + ' (' + incidenceBottom[i] + '%)', 3617, yBottom(i) + BRH / 2 + 8, 30, {'font-style': 'italic'});
  
  
});
const genusTitle = txt(gLabels, 'Genus (incidence %)', 3624, 2708, 30);



/* ---------- red separators ---------- */
const gRed = group('subtype-separators');
clusterBreaks.forEach(r => {
  const l = mk('line', {x1: 903, x2: 3607, y1: yRow(r), y2: yRow(r), stroke: '#ff0000', 'stroke-width': 5}, gRed);
  
  
});
solidSplits.forEach(c => {
  const l = mk('line', {x1: xCol(c), x2: xCol(c), y1: 568, y2: 3292, stroke: '#ff0000', 'stroke-width': 5.5}, gRed);
  
  
});
dashedSplits.forEach((c, i) => {
  const l = mk('line', {x1: xCol(c), x2: xCol(c), y1: 560, y2: 3292, stroke: '#ff0000', 'stroke-width': [2,2.6,3.6][i], 'stroke-dasharray': '48 6'}, gRed);
  
  
});

/* ---------- TMS labels ---------- */
const tmsNames = ["TMS1","TMS2","TMS3","TMS1a","TMS1b","TMS2a","TMS2b","TMS3a","TMS3b"];
const tmsX = [911,1902,2660,785,1339,1680,2183,2583,3204];
const tmsY = [208,208,209,355,353,385,384,410,385];
const gTms = group('subtype-labels');
tmsNames.forEach((s, i) => {
  const t = txt(gTms, s, tmsX[i], tmsY[i], i < 3 ? 86 : (i === 3 ? 64.5 : 63.5));
  
  
});

/* ---------- colour key ---------- */
const gKey = group('color-key');
for (let b = 0; b < keyBins; b++) {
  const v0 = b / keyBins * keyMax;
  const cell = mk('rect', {x: clrX(v0), y: 390, width: keyMax / keyBins * 56.4 + .3, height: 114, fill: clrColor(v0 + .001)}, gKey);
  
  
}
const keyAxis = mk('path', {d: 'M' + clrX(0) + ' 390V504H' + clrX(keyMax) + 'V390', fill: 'none', stroke: '#000', 'stroke-width': 2.5}, gKey);


clrTicks.forEach(v => {
  const tk = mk('line', {x1: clrX(v), x2: clrX(v), y1: 504, y2: 525, stroke: '#000', 'stroke-width': 2.5}, gKey);
  
  
  const t = txt(gKey, String(v), clrX(v), 572, 28, {'text-anchor': 'middle'});
  
  
});
const keyTitle = txt(gKey, 'Color Key', 376, 363, 37, {'text-anchor': 'middle', 'font-weight': 'bold'});


const keyUnit = txt(gKey, 'clr', 370, 608, 38, {'text-anchor': 'middle'});



/* ---------- legends ---------- */
const gLegend = group('legends');
function legend(name, title, tx, ty, labels, colors, sx, sy, sw, sh, step, lx, lOff, fs, shifts) {
  const t = txt(gLegend, title, tx, ty, 66);
  
  
  labels.forEach((s, i) => {
    const r = mk('rect', {x: sx, y: sy + i * step, width: sw, height: sh, fill: colors[i], stroke: '#222', 'stroke-width': 4}, gLegend);
    
    
    const l = txt(gLegend, s, lx, sy + i * step + lOff + (shifts ? shifts[i] : 0), fs, {'class': 'dv'});
    
    
    if (s === 'rectosigmoid') {
      l.setAttribute('textLength', '287');
      l.setAttribute('lengthAdjust', 'spacingAndGlyphs');
    }
  });
}
legend('site', 'site', 3652, 110, siteLabels, siteColors, 3666, 143, 40, 38, 48, 3733, 34, 41, siteLabelShift);
legend('grade', 'grade', 4112, 110, gradeLabels, gradeColors, 4130, 159, 40, 38, 48, 4201, 32, 41);
legend('pt', 'pT', 3675, 487, pTLabels, pTColors, 3677, 509, 34, 34, 44.7, 3735, 33, 41);
legend('pn', 'pN', 4120, 487, pNLabels, pNColors, 4128, 524, 34, 34, 45, 4180, 33, 41);
const metTitle1 = txt(gLegend, 'Synchronous distant', 3673, 825, 55);


const metTitle2 = txt(gLegend, 'metastases', 3673, 885, 55);


metLabels.forEach((s, i) => {
  const r = mk('rect', {x: 3680, y: 912 + i * 40, width: 31, height: 30, fill: metColors[i], stroke: '#222', 'stroke-width': 4}, gLegend);
  
  
  const l = txt(gLegend, s, 3727, 939 + i * 39, 34, {'class': 'dv'});
  
  
});

/* ---------- rotated annotation titles ---------- */
const rotNames = ["bacterial","clusters","tumour specific","oral origin","gut origin"];
const rotBaseX = [747,776,825,855,882];
const rotSize = [36,36,30.5,30,30];
const gRot = group('row-annotation-titles');
rotNames.forEach((s, i) => {
  const t = txt(gRot, s, 0, 0, rotSize[i], {'text-anchor': 'end', transform: 'translate(' + rotBaseX[i] + ' 2658) rotate(-90)'});
  
  
});
const yesBox = mk('rect', {x: 932, y: 2723, width: 28, height: 28, fill: '#555'}, gRot);


const yesText = txt(gRot, 'yes', 972, 2743, 17, {'class': 'dv'});


</script>
</body>
</html>
